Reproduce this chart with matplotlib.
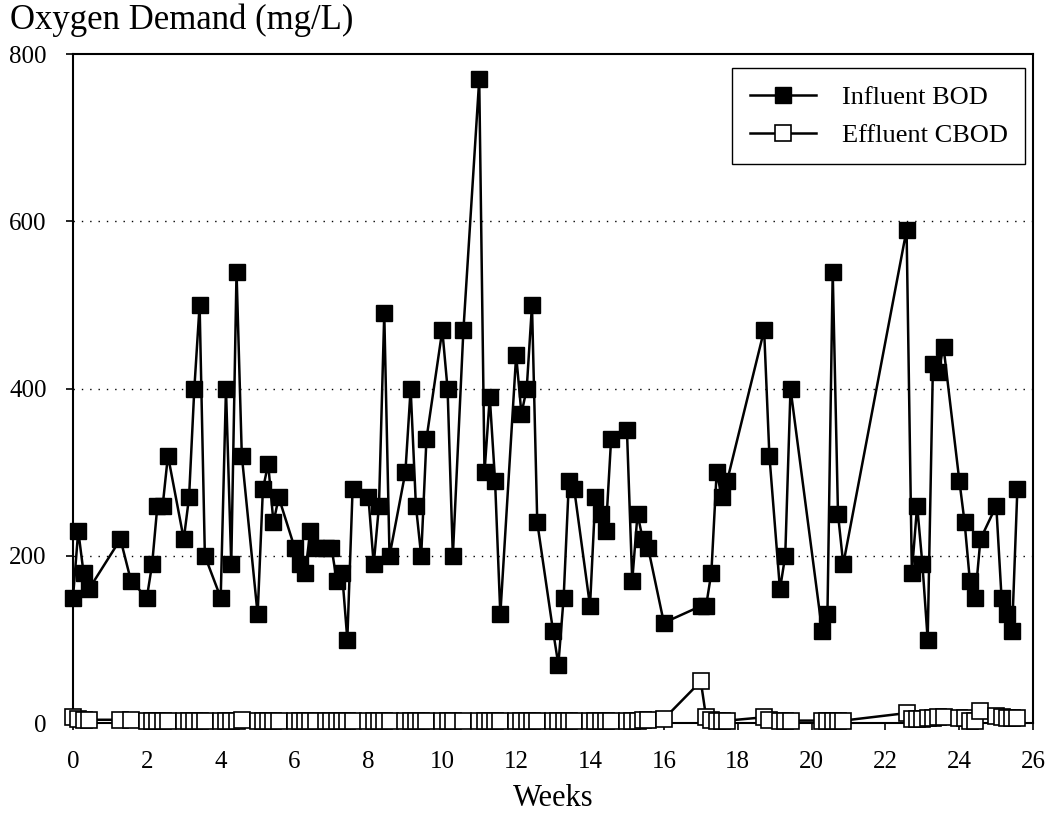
import matplotlib
matplotlib.use("Agg")
import matplotlib.pyplot as plt

plt.rcParams["font.family"] = ["Liberation Serif", "DejaVu Serif"]

# sampling days as fraction of a week (weekdays)
weeks = [0, 1/7, 2/7, 3/7,
         1 + 2/7, 1 + 4/7,
         2, 2 + 1/7, 2 + 2/7, 2 + 3/7, 2 + 4/7,
         3, 3 + 1/7, 3 + 2/7, 3 + 3/7, 3 + 4/7,
         4, 4 + 1/7, 4 + 2/7, 4 + 3/7, 4 + 4/7,
         5, 5 + 1/7, 5 + 2/7, 5 + 3/7, 5 + 4/7,
         6, 6 + 1/7, 6 + 2/7, 6 + 3/7, 6 + 4/7, 6 + 6/7,
         7, 7 + 1/7, 7 + 2/7, 7 + 3/7, 7 + 4/7,
         8, 8 + 1/7, 8 + 2/7, 8 + 3/7, 8 + 4/7,
         9, 9 + 1/7, 9 + 2/7, 9 + 3/7, 9 + 4/7,
         10, 10 + 1/7, 10 + 2/7, 10 + 4/7,
         11, 11 + 1/7, 11 + 2/7, 11 + 3/7, 11 + 4/7,
         12, 12 + 1/7, 12 + 2/7, 12 + 3/7, 12 + 4/7,
         13, 13 + 1/7, 13 + 2/7, 13 + 3/7, 13 + 4/7,
         14, 14 + 1/7, 14 + 2/7, 14 + 3/7, 14 + 4/7,
         15, 15 + 1/7, 15 + 2/7, 15 + 3/7, 15 + 4/7,
         16,
         17, 17 + 1/7, 17 + 2/7, 17 + 3/7, 17 + 4/7, 17 + 5/7,
         18 + 5/7, 18 + 6/7, 19 + 1/7, 19 + 2/7, 19 + 3/7,
         20 + 2/7, 20 + 3/7, 20 + 4/7, 20 + 5/7, 20 + 6/7,
         22 + 4/7, 22 + 5/7, 22 + 6/7, 23, 23 + 1/7, 23 + 2/7, 23 + 3/7, 23 + 4/7,
         24, 24 + 1/7, 24 + 2/7, 24 + 3/7, 24 + 4/7,
         25, 25 + 1/7, 25 + 2/7, 25 + 3/7, 25 + 4/7]

influent_bod = [150, 230, 180, 160,
                220, 170,
                150, 190, 260, 260, 320,
                220, 270, 400, 500, 200,
                150, 400, 190, 540, 320,
                130, 280, 310, 240, 270,
                210, 190, 180, 230, 210, 210,
                210, 170, 180, 100, 280,
                270, 190, 260, 490, 200,
                300, 400, 260, 200, 340,
                470, 400, 200, 470,
                770, 300, 390, 290, 130,
                440, 370, 400, 500, 240,
                110, 70, 150, 290, 280,
                140, 270, 250, 230, 340,
                350, 170, 250, 220, 210,
                120,
                140, 140, 180, 300, 270, 290,
                470, 320, 160, 200, 400,
                110, 130, 540, 250, 190,
                590, 180, 260, 190, 100, 430, 420, 450,
                290, 240, 170, 150, 220,
                260, 150, 130, 110, 280]

effluent_cbod = [7, 5, 4, 4,
                 4, 4,
                 3, 3, 3, 3, 3,
                 3, 3, 3, 3, 3,
                 3, 3, 3, 3, 4,
                 3, 3, 3, 3, 3,
                 3, 3, 3, 3, 3, 3,
                 3, 3, 3, 3, 3,
                 3, 3, 3, 3, 3,
                 3, 3, 3, 3, 3,
                 3, 3, 3, 3,
                 3, 3, 3, 3, 3,
                 3, 3, 3, 3, 3,
                 3, 3, 3, 3, 3,
                 3, 3, 3, 3, 3,
                 3, 3, 3, 4, 4,
                 5,
                 50, 7, 4, 3, 3, 3,
                 7, 4, 3, 3, 3,
                 3, 3, 3, 3, 3,
                 12, 5, 5, 5, 6, 6, 7, 7,
                 6, 6, 3, 3, 14,
                 8, 7, 6, 6, 6]

fig = plt.figure(figsize=(10.5, 8.35), dpi=100)
ax = fig.add_axes([0.0695, 0.134, 0.9145, 0.801])

ax.plot(weeks, influent_bod, color="black", lw=1.8, marker="s", ms=11,
        mfc="black", mec="black", mew=1, label="Influent BOD", zorder=3,
        clip_on=False)
ax.plot(weeks, effluent_cbod, color="black", lw=1.8, marker="s", ms=11,
        mfc="white", mec="black", mew=1.2, label="Effluent CBOD", zorder=3,
        clip_on=False)

ax.set_xlim(0, 26)
ax.set_ylim(0, 800)
ax.set_xticks(range(0, 27, 2))
ax.set_yticks(range(0, 801, 200))
ax.tick_params(labelsize=18, direction="out", length=5, width=1.2)
ax.tick_params(axis="x", pad=15)
ax.tick_params(axis="y", pad=14)
for s in ax.spines.values():
    s.set_linewidth(1.5)
for yv in (200, 400, 600):
    ax.axhline(yv, color="black", lw=1, ls=(0, (1, 5)), zorder=1)

ax.set_xlabel("Weeks", fontsize=22, labelpad=8)
fig.text(0.0095, 0.976, "Oxygen Demand (mg/L)", fontsize=25, ha="left", va="center")

leg = ax.legend(loc="upper right", bbox_to_anchor=(0.9915, 0.979), fontsize=19,
                fancybox=False, framealpha=1, edgecolor="black",
                handlelength=2.5, handletextpad=1.0, borderpad=0.65,
                labelspacing=0.55, borderaxespad=0)
leg.get_frame().set_linewidth(1)

fig.savefig("out.png", dpi=100)
